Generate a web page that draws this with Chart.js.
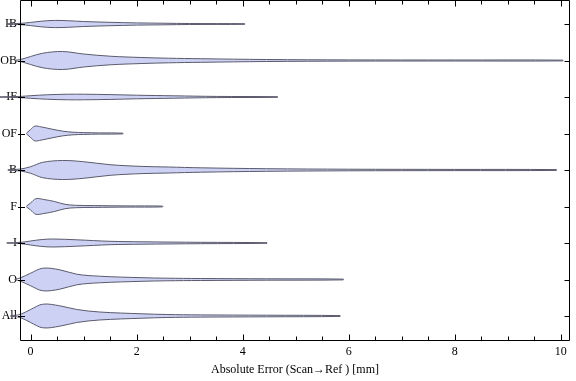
<!DOCTYPE html>
<html><head><meta charset="utf-8">
<script src="https://cdn.jsdelivr.net/npm/chart.js@4"></script>
<style>html,body{margin:0;padding:0;background:#fff}canvas{display:block}</style>
</head><body>
<canvas id="c" width="576" height="381"></canvas>
<script>
// Categories (top to bottom)
const categories = ['IB','OB','IF','OF','B','F','I','O','All'];
// Density profiles: sample positions (mm) and violin half-widths (density, px-scaled units)
const xIB  = [-0.45,-0.2,0,0.2,0.45,0.7,1.0,1.5,2.0,2.5,3.0,3.5,4.04];
const wIB  = [0.3,0.6,1.6,2.8,3.6,3.3,2.5,1.7,1.1,0.8,0.5,0.4,0.3];
const xOB  = [-0.3,-0.2,0,0.23,0.6,1.0,1.5,2.1,2.6,3.2,4.45,6,8,10.04];
const wOB  = [0.3,0.9,4,7.3,9,6.5,4.3,3,2.3,1.8,1.0,0.6,0.5,0.4];
const xIF  = [-0.58,-0.2,0,0.3,0.7,1.0,1.5,2.0,2.7,3.5,4.66];
const wIF  = [0.2,0.6,1.3,2.2,2.8,2.8,2.4,1.8,1.2,0.6,0.3];
const xOF  = [-0.08,0,0.08,0.2,0.4,0.6,0.8,1.0,1.3,1.74];
const wOF  = [0.3,4,7.4,6.6,4.4,2.4,1.3,0.9,0.6,0.4];
const xB   = [-0.43,-0.2,0,0.23,0.6,1.0,1.5,2.1,2.6,3.2,4.45,6,8,9.92];
const wB   = [0.3,0.9,3.3,7.7,9.5,8.3,5.3,3.6,3.0,2.2,1.3,0.8,0.6,0.4];
const xF   = [-0.08,0,0.1,0.25,0.45,0.65,0.85,1.2,1.8,2.49];
const wF   = [0.3,3.5,7.8,7,5,2.2,1.2,0.9,0.6,0.4];
const xI   = [-0.45,-0.2,0,0.2,0.42,0.87,1.5,2.1,3.2,4.46];
const wI   = [0.2,0.6,2,3.4,4.0,3.2,1.7,1.2,0.7,0.3];
const xO   = [-0.3,-0.2,0,0.23,0.55,0.87,1.3,2.1,2.57,3.2,4.45,5.9];
const wO   = [0.3,1.5,6.3,11.3,9.7,5.3,3.3,1.8,1.3,1.0,0.7,0.4];
const xAll = [-0.38,-0.2,0,0.23,0.55,0.87,1.3,2.1,2.57,3.2,4.45,5.84];
const wAll = [0.3,1.5,6.5,11.8,10.2,6.5,4.0,2.2,1.5,1.1,0.8,0.4];
const xTicks = [0,2,4,6,8,10];

const profiles = [[xIB,wIB],[xOB,wOB],[xIF,wIF],[xOF,wOF],[xB,wB],[xF,wF],[xI,wI],[xO,wO],[xAll,wAll]];
const WSCALE = 36.5; // density units per category step

const datasets = categories.map((name, i) => {
  const xs = profiles[i][0], ws = profiles[i][1];
  const pos = i + 1;
  const top = xs.map((x, j) => ({x: x, y: pos - ws[j] / WSCALE}));
  const bot = xs.map((x, j) => ({x: x, y: pos + ws[j] / WSCALE})).reverse();
  return {
    label: name,
    data: top.concat(bot),
    showLine: true,
    fill: 'shape',
    tension: 0.35,
    borderWidth: 1,
    borderColor: '#5a5a6c',
    backgroundColor: 'rgb(205,210,245)',
    pointRadius: 0,
    clip: false
  };
});

const FONT = {family: "'Liberation Serif', 'Times New Roman', serif", size: 12};

const framePlugin = {
  id: 'frame',
  afterDatasetsDraw(chart) {
    const {ctx, chartArea: a, scales: {x, y}} = chart;
    ctx.save();
    ctx.strokeStyle = '#000';
    ctx.lineWidth = 1;
    const L = Math.round(a.left) + 0.5, R = Math.round(a.right) - 0.5;
    const T = Math.round(a.top) + 0.5, B = Math.round(a.bottom) - 0.5;
    ctx.beginPath();
    ctx.rect(L, T, R - L, B - T);
    ctx.stroke();
    ctx.beginPath();
    for (let k = 0; k <= 20; k++) {
      const v = k * 0.5;
      const px = Math.round(x.getPixelForValue(v)) + 0.5;
      const len = (k % 4 === 0) ? 6 : 4;
      ctx.moveTo(px, B); ctx.lineTo(px, B - len);
      ctx.moveTo(px, T); ctx.lineTo(px, T + len);
    }
    categories.forEach((c, i) => {
      const py = Math.round(y.getPixelForValue(i + 1)) + 0.5;
      ctx.moveTo(L - 2.5, py); ctx.lineTo(L + 4.5, py);
      ctx.moveTo(R, py); ctx.lineTo(R - 5, py);
    });
    ctx.stroke();
    ctx.restore();
  }
};

new Chart(document.getElementById('c'), {
  type: 'scatter',
  data: {datasets},
  plugins: [framePlugin],
  options: {
    responsive: false,
    animation: false,
    devicePixelRatio: 1,
    layout: {padding: {top: 0, right: 6, left: 0, bottom: 0}},
    plugins: {legend: {display: false}, tooltip: {enabled: false}},
    scales: {
      x: {
        type: 'linear', min: -0.2, max: 10.175,
        grid: {display: false, drawTicks: false},
        border: {display: false},
        afterBuildTicks: s => { s.ticks = xTicks.map(v => ({value: v})); },
        afterFit: s => { s.height = 40; s.paddingLeft = 0; s.paddingRight = 0; },
        ticks: {font: FONT, color: '#000', padding: 4, maxRotation: 0, callback: v => String(v)},
        title: {display: true, text: 'Absolute Error (Scan\u2192Ref ) [mm]', font: FONT, color: '#000', padding: {top: 0, bottom: 4}}
      },
      y: {
        type: 'linear', min: 0.342, max: 9.685, reverse: true,
        grid: {display: false, drawTicks: false},
        border: {display: false},
        afterBuildTicks: s => { s.ticks = categories.map((c, i) => ({value: i + 1})); },
        afterFit: s => { s.width = 20; s.paddingTop = 0; s.paddingBottom = 0; },
        ticks: {font: FONT, color: '#000', padding: 3, callback: v => categories[Math.round(v) - 1]}
      }
    }
  }
});
</script>
</body></html>
